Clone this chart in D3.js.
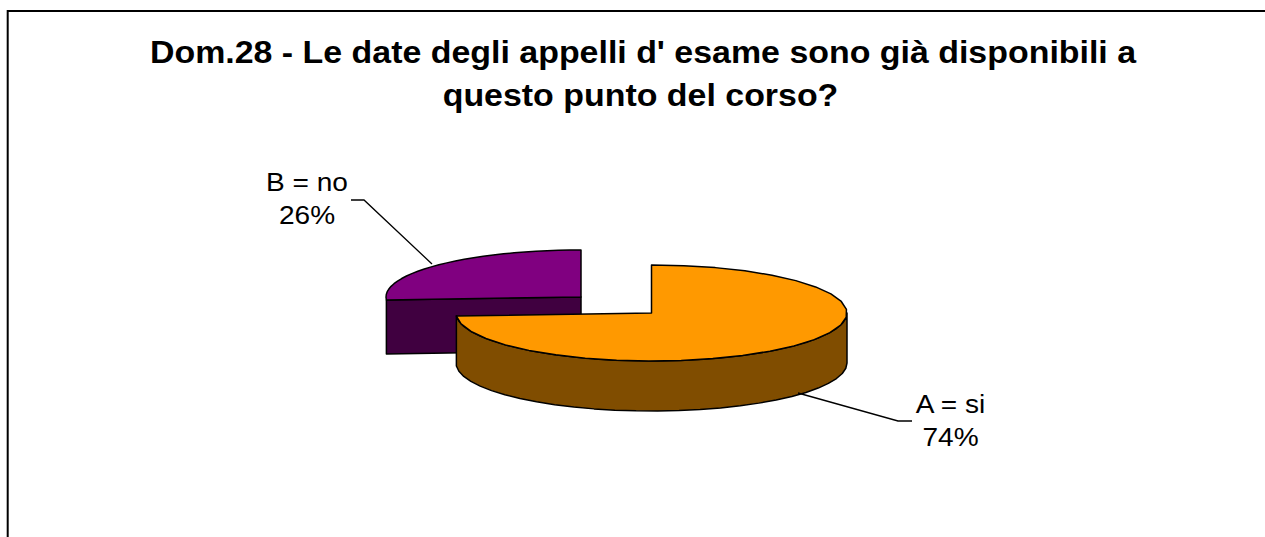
<!DOCTYPE html>
<html><head><meta charset="utf-8">
<style>html,body{margin:0;padding:0;background:#fff}svg{display:block}text{font-family:"Liberation Sans",Arial,sans-serif;fill:#000}</style>
<script src="https://cdn.jsdelivr.net/npm/d3@7/dist/d3.min.js"></script>
</head><body><svg id="c" width="1265" height="537"></svg>
<script>
const categories = ["A = si", "B = no"];
const values = [74, 26];
const percentLabels = ["74%", "26%"];
const titleLines = ["Dom.28 - Le date degli appelli d' esame sono già disponibili a", "questo punto del corso?"];
const topColors = ["#ff9900", "#800080"];
const sideColors = ["#804d00", "#400040"];

const svg = d3.select("#c");
svg.append("path").attr("d","M7.7,537V11H1265").attr("fill","none").attr("stroke","#000").attr("stroke-width",2);

const titleX = [643, 640.5], titleY = [63, 106];
svg.selectAll("text.title").data(titleLines).join("text").attr("class","title")
  .attr("transform",(d,i)=>`translate(${titleX[i]},${titleY[i]}) scale(1.06,1)`).attr("text-anchor","middle")
  .style("font-size","32px").style("font-weight","bold").text(d=>d);

const arcs = d3.pie().sort(null).startAngle(0).endAngle(2*Math.PI)(values);
const geom = [
  {cx:651.5, cy:313, rx:195.5, ry:48, depth:50},
  {cx:581, cy:297, rx:195, ry:47, depth:54}
];
const sx = g => a => g.cx + g.rx*Math.sin(a);
const sy = g => a => g.cy - g.ry*Math.cos(a);
const line = d3.line();
function samples(a0,a1){ return d3.range(0,29).map(d3.scaleLinear().domain([0,28]).range([a0,a1])); }
function rim(g,a0,a1,dy){ return samples(a0,a1).map(a=>[sx(g)(a), sy(g)(a)+dy]); }
function draw(i){
  const g = geom[i], a0 = arcs[i].startAngle, a1 = arcs[i].endAngle;
  const add = (pts,fill)=>svg.append("path").attr("d",line(pts)+"Z").attr("fill",fill)
    .attr("stroke","#000").attr("stroke-width",1.5).attr("stroke-linejoin","round");
  const c=[g.cx,g.cy], cd=[g.cx,g.cy+g.depth];
  if(i===1){
    const e=[sx(g)(a0),sy(g)(a0)];
    add([e,c,cd,[e[0],e[1]+g.depth]],sideColors[i]);
  } else {
    const v0=Math.PI/2, v1=Math.min(a1,3*Math.PI/2);
    add(rim(g,v0,v1,0).concat(rim(g,v0,v1,g.depth).reverse()),sideColors[i]);
  }
  add([c].concat(rim(g,a0,a1,0)),topColors[i]);
}
draw(1); draw(0);

const labels = [
  {i:0, x:950.5, y:[412.7,445.7], leader:[[798,393],[898,421],[912,421]]},
  {i:1, x:307, y:[191,224], leader:[[432,264],[364,200],[351,200]]}
];
labels.forEach(l=>{
  svg.append("path").attr("d",line(l.leader)).attr("fill","none").attr("stroke","#000").attr("stroke-width",1.3);
  [categories[l.i],percentLabels[l.i]].forEach((t,k)=>
    svg.append("text").attr("transform",`translate(${l.x},${l.y[k]}) scale(1.1,1)`).attr("text-anchor","middle").style("font-size","25.5px").text(t));
});
</script></body></html>
